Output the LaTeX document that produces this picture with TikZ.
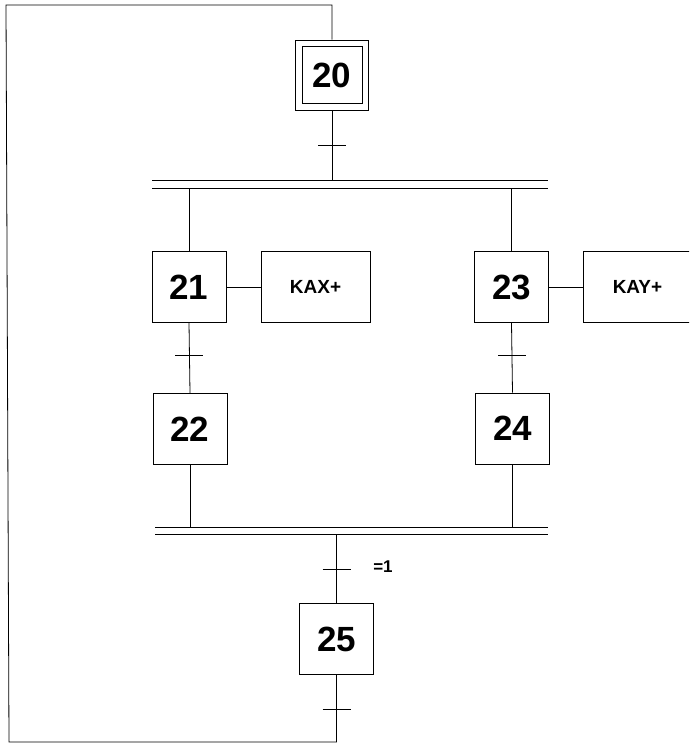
\documentclass[tikz,border=0pt]{standalone}
\usepackage{fontspec}
\setmainfont{Liberation Sans}
\usetikzlibrary{positioning}

\begin{document}
\begin{tikzpicture}[x=1pt,y=-1pt,
    etape/.style={draw,line width=0.9pt,minimum width=74pt,minimum height=71pt,inner sep=0pt,font=\bfseries\fontsize{35}{35}\selectfont},
    action/.style={draw,line width=0.9pt,minimum width=109pt,minimum height=71pt,inner sep=0pt,font=\bfseries\fontsize{19}{19}\selectfont},
    lien/.style={line width=0.8pt},
    barre/.style={line width=0.9pt},
    recep/.style={line width=0.8pt}]
    \useasboundingbox (0,0) rectangle (689,746);
    \clip (0,0) rectangle (689,746);

    % Steps
    \node[etape,minimum width=60pt,minimum height=57pt] (e20) at (332,75) {20};
    \node[draw,line width=0.9pt,minimum width=73pt,minimum height=70pt] (e20o) at (e20) {};
    \node[etape] (e21) at (189,287) {21};
    \node[etape] (e23) at (511.5,287) {23};
    \node[etape] (e22) at (190,429) {22};
    \node[etape] (e24) at (512.5,428.5) {24};
    \node[etape] (e25) at (336.5,639) {25};

    % Actions
    \node[action] (a21) at (315.5,287) {KAX+};
    \node[action] (a23) at (637.5,287) {KAY+};
    \draw[lien] (e21.east) -- (a21.west);
    \draw[lien] (e23.east) -- (a23.west);

    % Transitions
    \coordinate (t20) at (332,145);
    \coordinate (t21) at (189,355);
    \coordinate (t23) at (512,355);
    \coordinate (t25) at (336.5,569);
    \coordinate (t26) at (336.5,709);
    \foreach \t in {t20,t21,t23,t25,t26}
        \draw[recep] ([xshift=-14pt]\t) -- ([xshift=14pt]\t);
    \node[font=\bfseries\fontsize{17}{17}\selectfont] (c25) at (383,567) {=1};

    % Divergence (double bar)
    \coordinate (d1g) at (152,180);
    \coordinate (d1d) at (548,180);
    \coordinate (d2g) at (152,188);
    \coordinate (d2d) at (548,188);
    \draw[barre] (d1g) -- (d1d);
    \draw[barre] (d2g) -- (d2d);

    % Convergence (double bar)
    \coordinate (c1g) at (155,527);
    \coordinate (c1d) at (548,527);
    \coordinate (c2g) at (155,534);
    \coordinate (c2d) at (548,534);
    \draw[barre] (c1g) -- (c1d);
    \draw[barre] (c2g) -- (c2d);

    % Links
    \draw[lien] (e20o.south) -- (e20o.south |- d1g);
    \draw[lien] (e21.north) -- (e21.north |- d2g);
    \draw[lien] (e23.north) -- (e23.north |- d2g);
    \draw[lien] (e21.south) -- (e22.north);
    \draw[lien] (e23.south) -- (e24.north);
    \draw[lien] (e22.south) -- (e22.south |- c1g);
    \draw[lien] (e24.south) -- (e24.south |- c1g);
    \draw[lien] (e25.north |- c2g) -- (e25.north);

    % Loop back to step 20
    \coordinate (bd) at (336.5,742);
    \coordinate (bg) at (9,742);
    \coordinate (hg) at (6,5);
    \coordinate (hd) at (332,5);
    \draw[lien] (e25.south) -- (bd) -- (bg) -- (hg) -- (hd) -- (e20o.north);

\end{tikzpicture}
\end{document}
